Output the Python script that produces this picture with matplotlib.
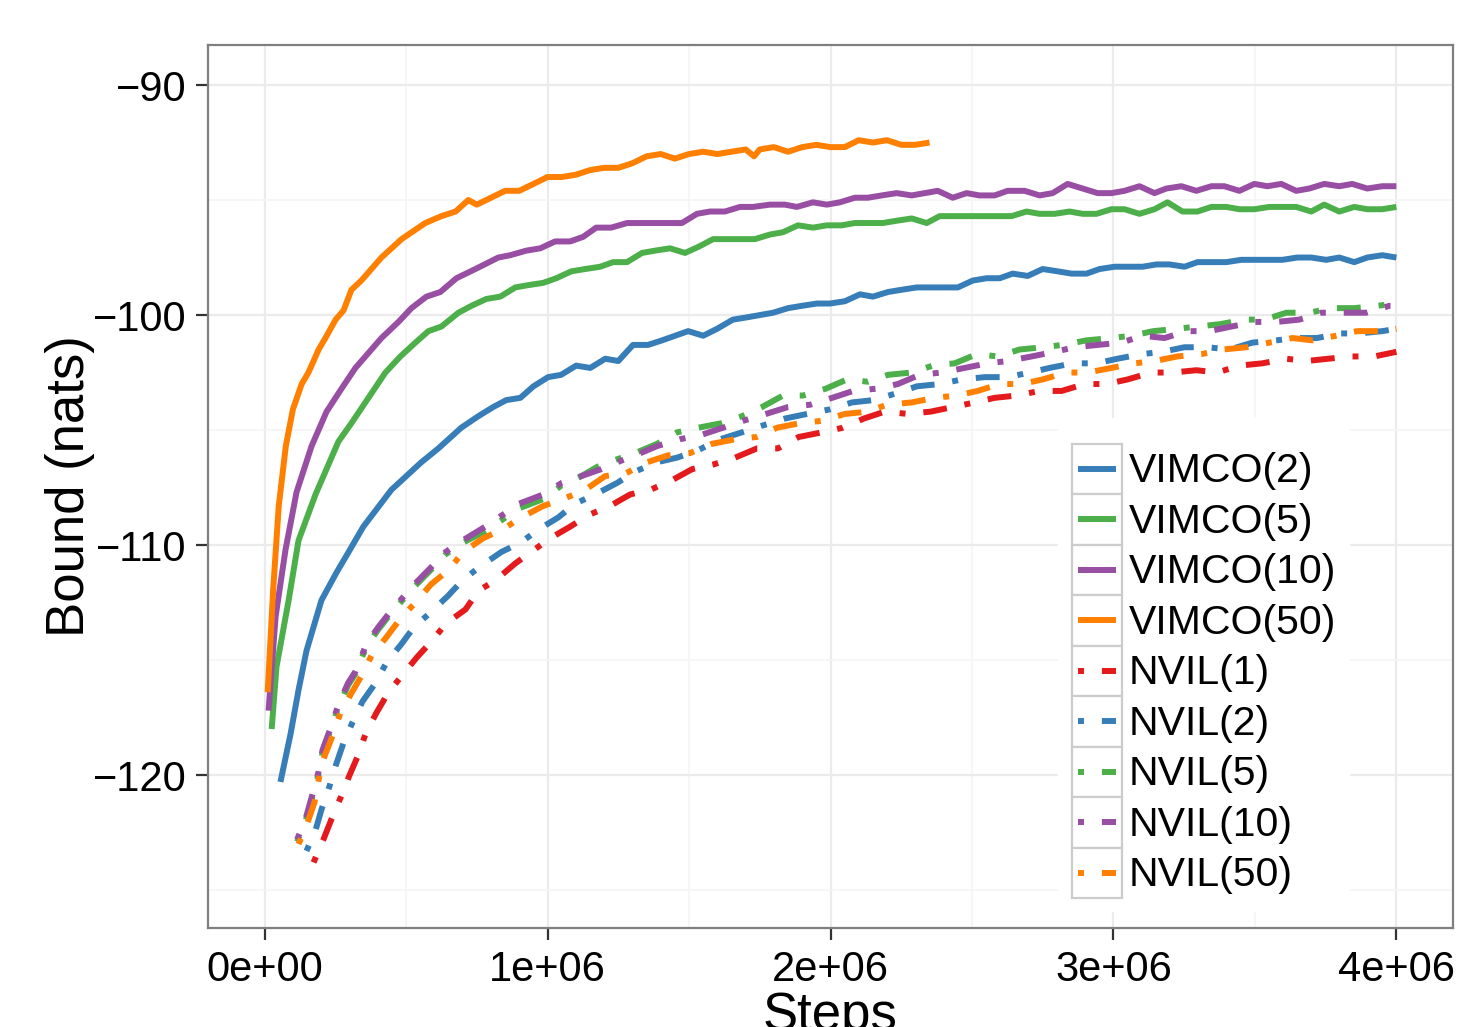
import numpy as np
import matplotlib
matplotlib.use("Agg")
import matplotlib.pyplot as plt
from matplotlib.lines import Line2D
from matplotlib.legend_handler import HandlerLine2D
from matplotlib.patches import Rectangle
from matplotlib.ticker import FixedLocator, FuncFormatter, MultipleLocator

plt.rcParams['font.family'] = ['Liberation Sans', 'DejaVu Sans']

# ---- data: (steps in millions, bound in nats) ----
vimco2 = [(0.056, -120.3), (0.092, -118.2), (0.120, -116.3), (0.148, -114.6), (0.201, -112.4),
          (0.254, -111.2), (0.297, -110.3), (0.349, -109.2), (0.448, -107.6), (0.554, -106.4),
          (0.614, -105.8), (0.695, -104.9), (0.755, -104.4), (0.808, -104.0), (0.854, -103.7),
          (0.904, -103.6), (0.950, -103.1), (1.002, -102.7), (1.048, -102.6), (1.101, -102.2),
          (1.151, -102.3), (1.204, -101.9), (1.250, -102.0), (1.302, -101.3), (1.355, -101.3),
          (1.405, -101.1), (1.451, -100.9), (1.497, -100.7), (1.550, -100.9), (1.599, -100.6),
          (1.655, -100.2), (1.705, -100.1), (1.751, -100.0), (1.797, -99.9), (1.850, -99.7),
          (1.899, -99.6), (1.952, -99.5), (1.998, -99.5), (2.051, -99.4), (2.104, -99.1),
          (2.150, -99.2), (2.203, -99.0), (2.252, -98.9), (2.305, -98.8), (2.404, -98.8),
          (2.450, -98.8), (2.503, -98.5), (2.552, -98.4), (2.598, -98.4), (2.644, -98.2),
          (2.697, -98.3), (2.750, -98.0), (2.803, -98.1), (2.852, -98.2), (2.905, -98.2),
          (2.951, -98.0), (3.004, -97.9), (3.050, -97.9), (3.103, -97.9), (3.152, -97.8),
          (3.198, -97.8), (3.251, -97.9), (3.297, -97.7), (3.350, -97.7), (3.399, -97.7),
          (3.452, -97.6), (3.498, -97.6), (3.551, -97.6), (3.597, -97.6), (3.650, -97.5),
          (3.699, -97.5), (3.752, -97.6), (3.798, -97.5), (3.851, -97.7), (3.897, -97.5),
          (3.950, -97.4), (4.000, -97.5)]

vimco5 = [(0.025, -118.0), (0.042, -115.3), (0.085, -112.4), (0.120, -109.8), (0.180, -107.8),
          (0.261, -105.5), (0.307, -104.7), (0.367, -103.6), (0.427, -102.5), (0.480, -101.8),
          (0.533, -101.2), (0.579, -100.7), (0.625, -100.5), (0.685, -99.9), (0.731, -99.6),
          (0.784, -99.3), (0.833, -99.2), (0.886, -98.8), (0.932, -98.7), (0.985, -98.6),
          (1.031, -98.4), (1.084, -98.1), (1.133, -98.0), (1.186, -97.9), (1.232, -97.7),
          (1.281, -97.7), (1.334, -97.3), (1.380, -97.2), (1.433, -97.1), (1.486, -97.3),
          (1.539, -97.0), (1.585, -96.7), (1.680, -96.7), (1.733, -96.7), (1.786, -96.5),
          (1.832, -96.4), (1.885, -96.1), (1.938, -96.2), (1.987, -96.1), (2.040, -96.1),
          (2.086, -96.0), (2.185, -96.0), (2.234, -95.9), (2.287, -95.8), (2.340, -96.0),
          (2.386, -95.7), (2.492, -95.7), (2.591, -95.7), (2.640, -95.7), (2.693, -95.5),
          (2.739, -95.6), (2.792, -95.6), (2.845, -95.5), (2.891, -95.6), (2.940, -95.6),
          (2.993, -95.4), (3.039, -95.4), (3.092, -95.6), (3.145, -95.4), (3.191, -95.1),
          (3.244, -95.5), (3.297, -95.5), (3.346, -95.3), (3.399, -95.3), (3.445, -95.4),
          (3.498, -95.4), (3.551, -95.3), (3.597, -95.3), (3.646, -95.3), (3.699, -95.5),
          (3.745, -95.2), (3.798, -95.5), (3.851, -95.3), (3.897, -95.4), (3.950, -95.4),
          (4.000, -95.3)]

vimco10 = [(0.014, -117.2), (0.039, -113.1), (0.074, -110.2), (0.113, -107.7), (0.166, -105.7),
           (0.219, -104.2), (0.272, -103.2), (0.321, -102.3), (0.413, -101.0), (0.473, -100.3),
           (0.519, -99.7), (0.572, -99.2), (0.621, -99.0), (0.678, -98.4), (0.745, -98.0),
           (0.826, -97.5), (0.868, -97.4), (0.925, -97.2), (0.974, -97.1), (1.027, -96.8),
           (1.080, -96.8), (1.126, -96.6), (1.172, -96.2), (1.225, -96.2), (1.281, -96.0),
           (1.373, -96.0), (1.475, -96.0), (1.528, -95.6), (1.574, -95.5), (1.627, -95.5),
           (1.680, -95.3), (1.726, -95.3), (1.786, -95.2), (1.839, -95.2), (1.881, -95.3),
           (1.938, -95.1), (1.987, -95.2), (2.033, -95.1), (2.086, -94.9), (2.132, -94.9),
           (2.181, -94.8), (2.234, -94.7), (2.287, -94.8), (2.333, -94.7), (2.379, -94.6),
           (2.432, -94.9), (2.481, -94.7), (2.527, -94.8), (2.580, -94.8), (2.626, -94.6),
           (2.686, -94.6), (2.739, -94.8), (2.785, -94.7), (2.838, -94.3), (2.891, -94.5),
           (2.944, -94.7), (2.993, -94.7), (3.039, -94.6), (3.092, -94.4), (3.145, -94.7),
           (3.187, -94.5), (3.240, -94.4), (3.293, -94.6), (3.346, -94.4), (3.392, -94.4),
           (3.445, -94.6), (3.498, -94.3), (3.544, -94.4), (3.593, -94.3), (3.646, -94.6),
           (3.692, -94.5), (3.745, -94.3), (3.798, -94.4), (3.844, -94.3), (3.897, -94.5),
           (3.950, -94.4), (4.000, -94.4)]

vimco50 = [(0.011, -116.4), (0.030, -112.0), (0.050, -108.3), (0.075, -105.7), (0.100, -104.1),
           (0.131, -103.0), (0.155, -102.5), (0.191, -101.5), (0.215, -101.0), (0.251, -100.2),
           (0.279, -99.8), (0.307, -98.9), (0.342, -98.5), (0.413, -97.5), (0.484, -96.7),
           (0.568, -96.0), (0.625, -95.7), (0.675, -95.5), (0.720, -95.0), (0.750, -95.2),
           (0.800, -94.9), (0.850, -94.6), (0.900, -94.6), (0.950, -94.3), (1.000, -94.0),
           (1.050, -94.0), (1.100, -93.9), (1.150, -93.7), (1.200, -93.6), (1.250, -93.6),
           (1.300, -93.4), (1.350, -93.1), (1.400, -93.0), (1.450, -93.2), (1.500, -93.0),
           (1.550, -92.9), (1.600, -93.0), (1.650, -92.9), (1.700, -92.8), (1.730, -93.1),
           (1.750, -92.8), (1.800, -92.7), (1.850, -92.9), (1.900, -92.7), (1.950, -92.6),
           (2.000, -92.7), (2.050, -92.7), (2.100, -92.4), (2.150, -92.5), (2.200, -92.4),
           (2.250, -92.6), (2.300, -92.6), (2.350, -92.5)]

nvil1 = [(0.173, -123.8), (0.208, -122.8), (0.237, -121.9), (0.268, -121.0), (0.297, -120.1),
         (0.332, -119.1), (0.357, -118.2), (0.395, -117.3), (0.438, -116.4), (0.484, -115.7),
         (0.537, -114.9), (0.589, -114.2), (0.642, -113.4), (0.710, -112.8), (0.755, -112.0),
         (0.819, -111.5), (0.886, -110.8), (0.942, -110.3), (1.010, -109.7), (1.080, -109.2),
         (1.144, -108.7), (1.221, -108.3), (1.292, -107.8), (1.363, -107.6), (1.437, -107.2),
         (1.511, -106.7), (1.585, -106.5), (1.663, -106.2), (1.740, -105.8), (1.814, -105.8),
         (1.888, -105.3), (1.970, -105.1), (2.044, -104.9), (2.118, -104.5), (2.192, -104.2),
         (2.273, -104.3), (2.354, -104.2), (2.432, -104.0), (2.510, -103.8), (2.580, -103.6),
         (2.658, -103.5), (2.739, -103.3), (2.817, -103.3), (2.898, -103.0), (2.976, -103.0),
         (3.050, -102.8), (3.134, -102.5), (3.209, -102.5), (3.293, -102.4), (3.367, -102.5),
         (3.445, -102.2), (3.526, -102.1), (3.611, -101.9), (3.682, -102.0), (3.759, -101.9),
         (3.840, -101.8), (3.922, -101.8), (4.000, -101.6)]

nvil2 = [(0.148, -123.3), (0.180, -122.4), (0.201, -121.5), (0.229, -120.5), (0.251, -119.6),
         (0.279, -118.6), (0.311, -117.7), (0.346, -116.8), (0.392, -116.0), (0.431, -115.1),
         (0.484, -114.3), (0.526, -113.6), (0.589, -112.9), (0.649, -112.2), (0.702, -111.5),
         (0.766, -110.9), (0.837, -110.3), (0.904, -109.9), (0.971, -109.3), (1.038, -108.8),
         (1.098, -108.2), (1.168, -107.8), (1.246, -107.3), (1.310, -106.8), (1.387, -106.4),
         (1.458, -106.2), (1.528, -105.9), (1.610, -105.4), (1.687, -105.1), (1.761, -104.8),
         (1.839, -104.5), (1.917, -104.3), (1.998, -104.1), (2.076, -103.8), (2.150, -103.7),
         (2.234, -103.4), (2.305, -103.1), (2.386, -103.0), (2.464, -102.8), (2.545, -102.7),
         (2.626, -102.7), (2.704, -102.5), (2.774, -102.3), (2.856, -102.1), (2.940, -102.1),
         (3.014, -101.9), (3.099, -101.7), (3.173, -101.6), (3.251, -101.4), (3.332, -101.4),
         (3.410, -101.5), (3.491, -101.2), (3.576, -101.1), (3.646, -101.0), (3.720, -101.0),
         (3.798, -100.8), (3.869, -100.8), (3.950, -100.7), (4.000, -100.6)]

nvil5 = [(0.115, -122.9), (0.145, -122.0), (0.170, -120.9), (0.190, -120.0), (0.205, -119.0),
         (0.235, -118.0), (0.262, -117.0), (0.295, -116.1), (0.321, -115.6), (0.360, -114.4),
         (0.400, -113.7), (0.438, -113.1), (0.480, -112.5), (0.530, -111.8), (0.586, -111.1),
         (0.640, -110.4), (0.700, -109.9), (0.780, -109.4), (0.840, -108.9), (0.900, -108.4),
         (0.985, -108.0), (1.050, -107.4), (1.120, -107.0), (1.190, -106.5), (1.239, -106.3),
         (1.310, -106.0), (1.387, -105.6), (1.458, -105.1), (1.532, -104.9), (1.616, -104.7),
         (1.687, -104.4), (1.758, -104.0), (1.832, -103.5), (1.903, -103.5), (1.984, -103.2),
         (2.058, -102.8), (2.132, -102.9), (2.203, -102.6), (2.287, -102.5), (2.361, -102.2),
         (2.439, -102.1), (2.517, -101.7), (2.591, -101.8), (2.668, -101.5), (2.750, -101.4),
         (2.820, -101.3), (2.905, -101.1), (2.993, -101.0), (3.064, -100.9), (3.141, -100.7),
         (3.223, -100.6), (3.297, -100.5), (3.375, -100.4), (3.463, -100.2), (3.534, -100.2),
         (3.611, -99.9), (3.692, -99.9), (3.770, -99.7), (3.851, -99.7), (3.932, -99.6),
         (4.000, -99.5)]

nvil10 = [(0.115, -122.8), (0.145, -121.9), (0.170, -120.8), (0.190, -119.9), (0.205, -118.9),
          (0.235, -117.9), (0.262, -116.9), (0.295, -116.0), (0.321, -115.5), (0.360, -114.3),
          (0.400, -113.6), (0.438, -113.0), (0.480, -112.4), (0.530, -111.7), (0.586, -111.0),
          (0.640, -110.3), (0.700, -109.8), (0.780, -109.2), (0.840, -108.7), (0.900, -108.2),
          (0.985, -107.8), (1.050, -107.3), (1.120, -107.0), (1.190, -106.7), (1.246, -106.4),
          (1.310, -106.1), (1.387, -105.7), (1.468, -105.4), (1.546, -105.2), (1.620, -104.9),
          (1.691, -104.6), (1.772, -104.3), (1.850, -104.0), (1.928, -103.9), (2.006, -103.6),
          (2.080, -103.3), (2.164, -103.2), (2.238, -103.0), (2.315, -102.6), (2.393, -102.5),
          (2.474, -102.3), (2.555, -102.1), (2.626, -102.0), (2.711, -101.8), (2.792, -101.6),
          (2.863, -101.4), (2.944, -101.3), (3.028, -101.2), (3.103, -100.9), (3.180, -101.0),
          (3.261, -100.7), (3.339, -100.7), (3.417, -100.5), (3.498, -100.3), (3.576, -100.3),
          (3.657, -100.2), (3.734, -99.9), (3.809, -99.9), (3.893, -99.9), (3.975, -99.6),
          (4.000, -99.6)]

nvil50 = [(0.120, -123.0), (0.148, -122.2), (0.176, -121.2), (0.191, -120.2), (0.208, -119.3),
          (0.240, -118.3), (0.268, -117.3), (0.304, -116.5), (0.342, -115.7), (0.378, -114.8),
          (0.431, -114.0), (0.480, -113.2), (0.533, -112.5), (0.589, -111.7), (0.649, -111.1),
          (0.702, -110.3), (0.773, -109.7), (0.844, -109.3), (0.907, -108.8), (0.985, -108.3),
          (1.055, -108.0), (1.133, -107.6), (1.204, -107.0), (1.274, -106.9), (1.352, -106.4),
          (1.426, -106.1), (1.504, -106.0), (1.581, -105.6), (1.663, -105.4), (1.740, -105.3),
          (1.811, -104.9), (1.892, -104.7), (1.970, -104.6), (2.051, -104.3), (2.132, -104.2),
          (2.199, -103.9), (2.287, -103.8), (2.368, -103.6), (2.446, -103.5), (2.520, -103.3),
          (2.598, -103.0), (2.676, -103.0), (2.750, -102.8), (2.834, -102.5), (2.909, -102.5),
          (2.993, -102.3), (3.074, -102.1), (3.145, -102.0), (3.226, -101.8), (3.311, -101.7),
          (3.385, -101.5), (3.470, -101.4), (3.551, -101.2), (3.632, -101.0), (3.703, -101.1),
          (3.787, -100.9), (3.862, -100.7), (3.946, -100.7), (4.000, -100.6)]

series_labels = ["VIMCO(2)", "VIMCO(5)", "VIMCO(10)", "VIMCO(50)",
                 "NVIL(1)", "NVIL(2)", "NVIL(5)", "NVIL(10)", "NVIL(50)"]
series_data = [vimco2, vimco5, vimco10, vimco50, nvil1, nvil2, nvil5, nvil10, nvil50]
series_colors = ["#377EB8", "#4DAF4A", "#984EA3", "#FF7F00",
                 "#E41A1C", "#377EB8", "#4DAF4A", "#984EA3", "#FF7F00"]
series_dashed = [False, False, False, False, True, True, True, True, True]

x_ticks = [0, 1e6, 2e6, 3e6, 4e6]
y_ticks = [-120, -110, -100, -90]

# ---- figure ----
W, H = 1467, 1027
fig = plt.figure(figsize=(W / 100, H / 100), dpi=100, facecolor='white')
ax = fig.add_axes([208 / W, 1 - 928 / H, (1453 - 208) / W, (928 - 45) / H])

LW = 4.3
for lab, data, col, dashed in zip(series_labels, series_data, series_colors, series_dashed):
    xs = np.array([p[0] for p in data]) * 1e6
    ys = np.array([p[1] for p in data])
    ls = (0, (1, 3, 4, 3)) if dashed else '-'
    ax.plot(xs, ys, color=col, lw=LW, linestyle=ls, label=lab,
            solid_capstyle='butt', dash_capstyle='butt',
            solid_joinstyle='round', dash_joinstyle='round')

ax.set_xlim(-0.2e6, 4.2e6)
ax.set_ylim(-126.65, -88.26)
ax.xaxis.set_major_locator(FixedLocator(x_ticks))
ax.yaxis.set_major_locator(FixedLocator(y_ticks))
ax.xaxis.set_minor_locator(MultipleLocator(0.5e6))
ax.yaxis.set_minor_locator(MultipleLocator(5))
ax.xaxis.set_major_formatter(FuncFormatter(lambda v, p: f"{v:.0e}"))

ax.set_axisbelow(True)
ax.grid(which='major', color='#EBEBEB', lw=1.6)
ax.grid(which='minor', color='#F5F5F5', lw=1.2)
for s in ax.spines.values():
    s.set_color('#7F7F7F')
    s.set_linewidth(1.6)
ax.tick_params(which='major', length=8.6, width=1.6, color='#333333',
               labelsize=30, labelcolor='black', pad=7)
ax.tick_params(which='minor', length=0)

ax.set_xlabel("Steps", fontsize=38, labelpad=1)
ax.set_ylabel("Bound (nats)", fontsize=38, labelpad=-2)


class BoxedLine(HandlerLine2D):
    def create_artists(self, legend, orig_handle, xdescent, ydescent,
                       width, height, fontsize, trans):
        arts = super().create_artists(legend, orig_handle, xdescent, ydescent,
                                      width, height, fontsize, trans)
        rect = Rectangle((-xdescent, -ydescent), width, height,
                         facecolor='white', edgecolor='#CCCCCC', lw=1.6,
                         transform=trans)
        inset = 0.12 * width
        for a in arts:
            n = len(a.get_xdata())
            a.set_xdata(np.linspace(-xdescent + inset, -xdescent + width - inset, n))
            a.set_ydata(np.full(n, height / 2.0 - ydescent))
        return [rect] + arts


leg = ax.legend(loc='lower left', bbox_to_anchor=(0.683, 0.018), borderaxespad=0,
                fontsize=29.5, handlelength=1.22, handleheight=1.52, labelspacing=0,
                handletextpad=0.15, borderpad=0.34, fancybox=False, frameon=True,
                framealpha=1, title=' ', title_fontsize=9,
                handler_map={Line2D: BoxedLine()})
leg.get_frame().set_facecolor('white')
leg.get_frame().set_edgecolor('none')

fig.savefig("out.png", dpi=100, facecolor='white')
